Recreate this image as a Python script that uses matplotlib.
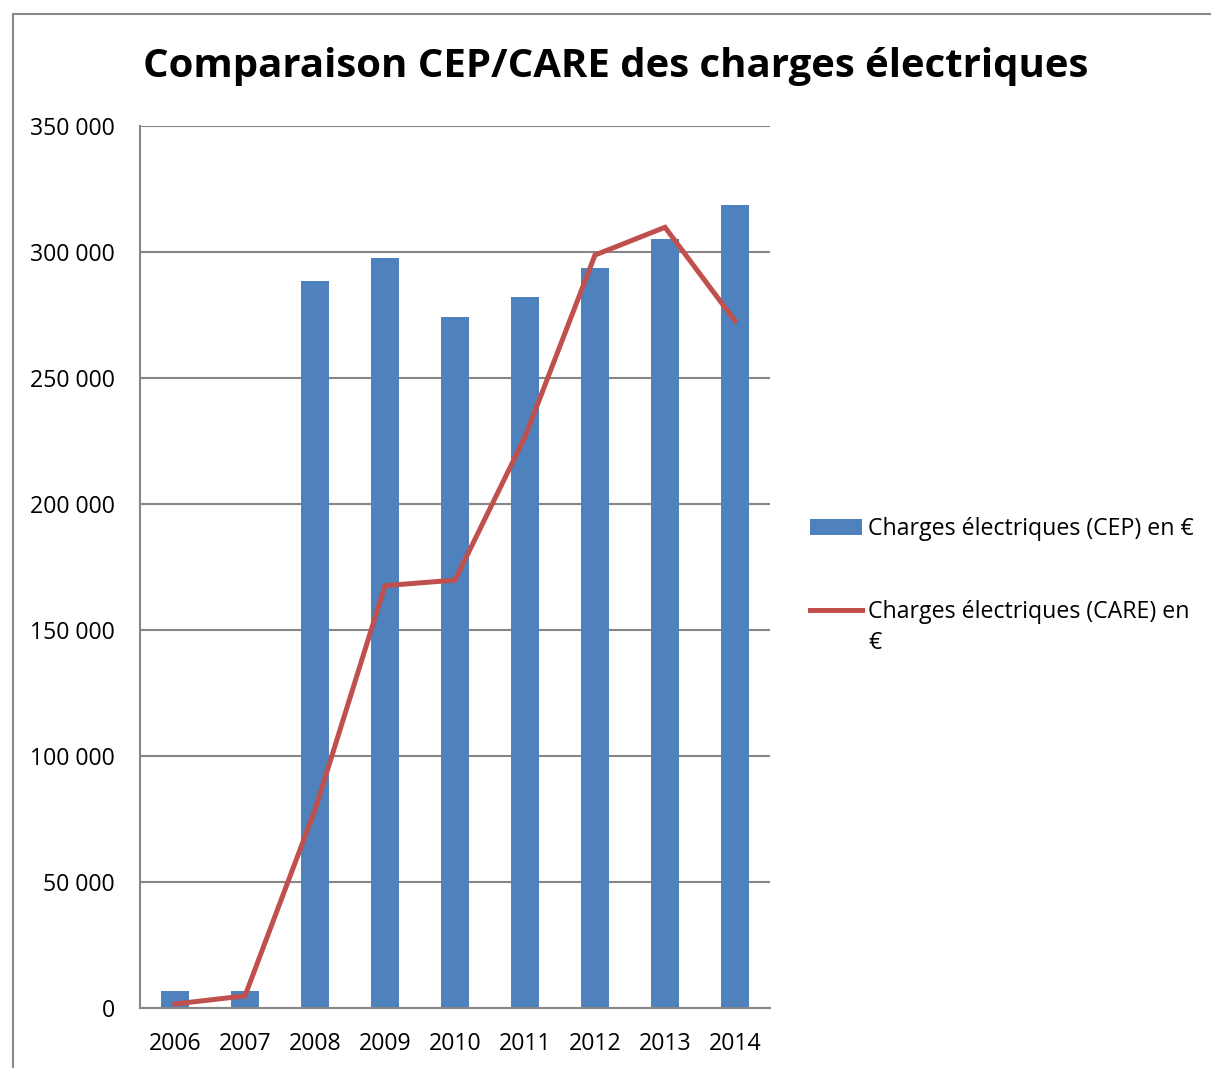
import matplotlib
matplotlib.use("Agg")
import matplotlib.pyplot as plt
from matplotlib.patches import Rectangle
from matplotlib.ticker import FuncFormatter, MultipleLocator
import numpy as np

years = ["2006", "2007", "2008", "2009", "2010", "2011", "2012", "2013", "2014"]
cep = [6700, 6900, 288500, 297700, 274300, 282000, 293500, 305200, 318700]
care = [1600, 4800, 78600, 167600, 169800, 226600, 298800, 309800, 272700]

title = "Comparaison CEP/CARE des charges électriques"
label_cep = "Charges électriques (CEP) en €"
label_care = "Charges électriques (CARE) en"
label_care_2 = "€"

BAR = "#4F81BD"
LINE = "#C0504D"
GRID = "#868686"
FONT = "Open Sans"
FS = 16.7

W, H = 1211, 1068
fig = plt.figure(figsize=(W / 100, H / 100), dpi=100)
fig.patch.set_facecolor("white")

# outer chart frame
fig.patches.append(Rectangle((13 / W, -0.1), 1.2, 1 - 14 / H + 0.1, transform=fig.transFigure,
                             fill=False, edgecolor="#8a8a8a", linewidth=1.5))

ax = fig.add_axes([140 / W, 1 - 1008 / H, (770 - 140) / W, (1008 - 126) / H])
x = np.arange(len(years))
bars = ax.bar(x, cep, width=0.4, color=BAR, zorder=2, label=label_cep)
line, = ax.plot(x, care, color=LINE, linewidth=3.6, zorder=3, label=label_care,
                solid_joinstyle="miter")

ax.set_xlim(-0.5, len(years) - 0.5)
ax.set_ylim(0, 350000)
ax.yaxis.set_major_locator(MultipleLocator(50000))
ax.yaxis.set_major_formatter(FuncFormatter(lambda v, p: f"{v:,.0f}".replace(",", " ")))
ax.set_xticks(x)
ax.set_xticklabels(years)
ax.grid(axis="y", color=GRID, linewidth=1.5, zorder=0)
ax.set_axisbelow(True)
for s in ["top", "right"]:
    ax.spines[s].set_visible(False)
for s in ["left", "bottom"]:
    ax.spines[s].set_color(GRID)
    ax.spines[s].set_linewidth(1.5)
ax.tick_params(axis="y", length=0, pad=18, labelsize=FS)
ax.tick_params(axis="x", length=0, pad=17, labelsize=FS)
for lab in ax.get_xticklabels() + ax.get_yticklabels():
    lab.set_fontfamily(FONT)

fig.text(616 / W, 1 - 66 / H, title, ha="center", va="center", fontsize=28.9,
         fontweight="bold", family=FONT)

leg = ax.legend(handles=[bars, line], loc="upper left",
                bbox_to_anchor=(810 / W, 1 - 517 / H), bbox_transform=fig.transFigure,
                frameon=False, borderpad=0, borderaxespad=0, handlelength=2.25,
                handletextpad=0.27, labelspacing=2.55,
                prop={"family": FONT, "size": FS})
fig.text(868 / W, 1 - 643 / H, label_care_2, ha="left", va="center", fontsize=FS, family=FONT)

fig.savefig("out.png", dpi=100)
